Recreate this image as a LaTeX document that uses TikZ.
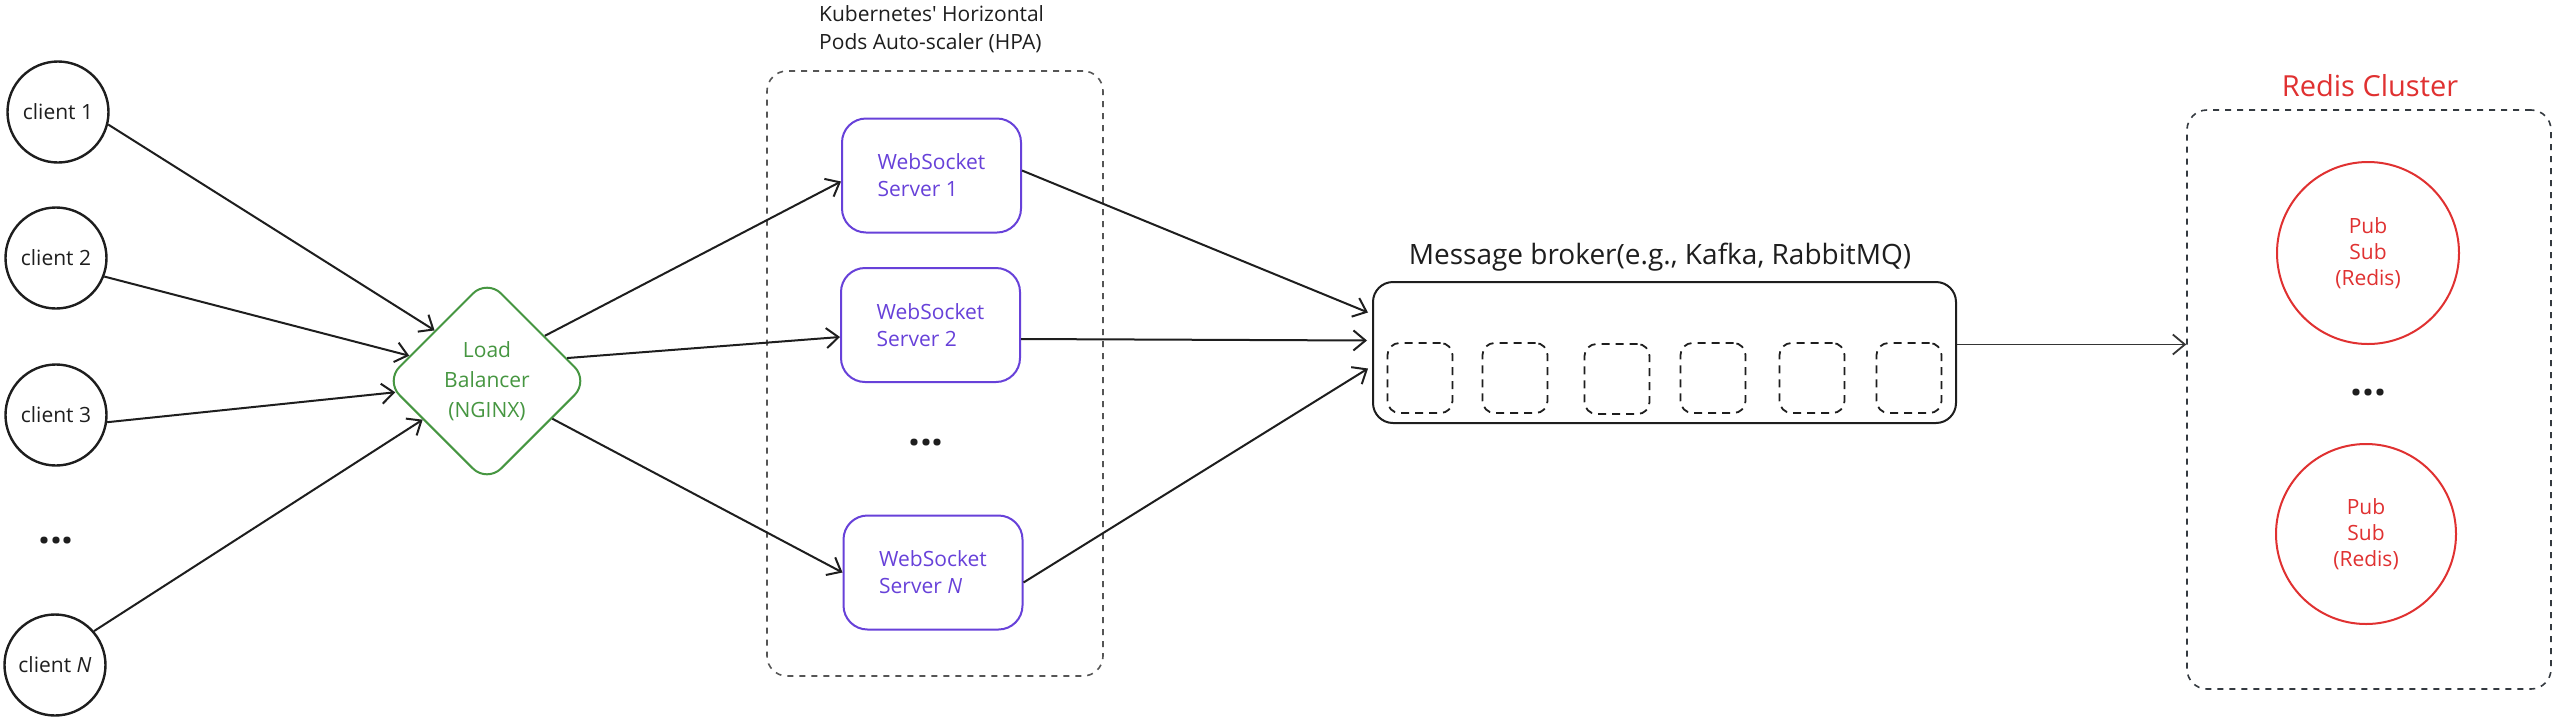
\documentclass[tikz,border=0pt]{standalone}
\usepackage{fontspec}
\setmainfont{Open Sans}
\usetikzlibrary{shapes.geometric,arrows.meta}
\definecolor{ink}{HTML}{1E1E1E}
\definecolor{lbgreen}{RGB}{70,150,65}
\definecolor{wsviolet}{RGB}{103,65,217}
\definecolor{redisred}{HTML}{E03131}
\definecolor{dashgray}{HTML}{555555}
\definecolor{dashnavy}{HTML}{343A40}
\begin{document}
\begin{tikzpicture}[x=1pt,y=-1pt,
  txt/.style={font=\fontsize{21}{27}\selectfont},
  client/.style={circle, draw=ink, line width=2.4pt, minimum size=101pt, inner sep=0pt, txt, text=ink},
  wsbox/.style={draw=wsviolet, rounded corners=24pt, line width=2pt, minimum width=179pt, minimum height=114pt, align=left, text=wsviolet, txt},
  lbnode/.style={diamond, draw=lbgreen, rounded corners=20pt, line width=2pt, minimum width=204pt, minimum height=204pt, inner sep=0pt, align=center, text=lbgreen, font=\fontsize{21}{30}\selectfont},
  arr/.style={-{Straight Barb[length=12pt,width=20pt]}, draw=ink, line width=2pt},
  thinarr/.style={-{Straight Barb[length=12pt,width=20pt]}, draw=ink!90, line width=1.8pt},
  grp/.style={draw, dash pattern=on 6pt off 6pt, line width=1.6pt, rounded corners=20pt, inner sep=0pt},
  slot/.style={draw=ink, dash pattern=on 8pt off 6pt, line width=1.8pt, rounded corners=12pt, minimum width=65pt, minimum height=70pt, inner sep=0pt},
  dots/.style={font=\fontsize{42}{42}\selectfont\bfseries, text=ink, inner sep=0pt},
  pubsub/.style={circle, draw=redisred, line width=2pt, inner sep=0pt, align=center, text=redisred, font=\fontsize{21}{26}\selectfont},
  bigtitle/.style={font=\fontsize{28}{30}\selectfont, inner sep=0pt}
]
\useasboundingbox[fill=white] (0,0) rectangle (2560,724);

% clients
\node[client] (c1) at (58,112) {client 1};
\node[client] (c2) at (56,258) {client 2};
\node[client] (c3) at (56,415) {client 3};
\node[dots] (cdots) at (56,541) {...};
\node[client] (cN) at (55,665) {client \textit{N}};

% load balancer
\node[lbnode] (lb) at (487,381) {Load\\Balancer\\(NGINX)};

% HPA group
\node[grp, draw=dashgray, minimum width=336pt, minimum height=605pt] (hpa) at (935,373.5) {};
\node[anchor=west, align=left, text=ink, inner sep=0pt, font=\fontsize{21}{28}\selectfont] (hpatitle) at (819,29) {Kubernetes\textquotesingle{} Horizontal\\Pods Auto-scaler (HPA)};

% websocket servers
\node[wsbox] (ws1) at (931.5,175.5) {WebSocket\\Server 1};
\node[wsbox] (ws2) at (930.5,325) {WebSocket\\Server 2};
\node[dots] (wsdots) at (926,443) {...};
\node[wsbox] (wsN) at (933,572.5) {WebSocket\\Server \textit{N}};

% message broker
\node[bigtitle, text=ink] (mbtitle) at (1660,257) {Message broker(e.g., Kafka, RabbitMQ)};
\node[draw=ink, line width=2pt, rounded corners=20pt, minimum width=583pt, minimum height=141pt, inner sep=0pt] (mb) at (1664.5,352.5) {};
\node[slot] (s1) at (1420,378) {};
\node[slot] (s2) at (1515,378) {};
\node[slot] (s3) at (1617,379) {};
\node[slot] (s4) at (1713,378) {};
\node[slot] (s5) at (1812,378) {};
\node[slot] (s6) at (1909,378) {};

% redis cluster
\node[font=\fontsize{29}{30}\selectfont, inner sep=0pt, text=redisred] (rtitle) at (2370,86) {Redis Cluster};
\node[grp, draw=dashnavy, minimum width=364pt, minimum height=579pt] (rc) at (2369,399.5) {};
\node[pubsub, minimum size=182pt] (r1) at (2368,253) {Pub\\Sub\\(Redis)};
\node[dots] (rdots) at (2368,393) {...};
\node[pubsub, minimum size=180pt] (r2) at (2366,534) {Pub\\Sub\\(Redis)};

% connectors: clients -> load balancer
\draw[arr] (c1.-14) -- (lb.136);
\draw[arr] (c2.-21) -- (lb.162);
\draw[arr] (c3.-8) -- (lb.187);
\draw[arr] (cN.41) -- (lb.211);

% load balancer -> servers
\draw[arr] (lb.38) -- ([yshift=-6pt]ws1.west);
\draw[arr] (lb.16) -- ([yshift=-12pt]ws2.west);
\draw[arr] (lb.-30) -- (wsN.west);

% servers -> broker
\draw[arr] ([yshift=5pt]ws1.east) -- ([xshift=-4pt,yshift=40pt]mb.west);
\draw[arr] ([yshift=-14pt]ws2.east) -- ([xshift=-5pt,yshift=12pt]mb.west);
\draw[arr] ([yshift=-10pt]wsN.east) -- ([xshift=-4pt,yshift=-16pt]mb.west);

% broker -> redis
\draw[thinarr] ([yshift=8pt]mb.east) -- ([yshift=55pt]rc.west);
\end{tikzpicture}
\end{document}
